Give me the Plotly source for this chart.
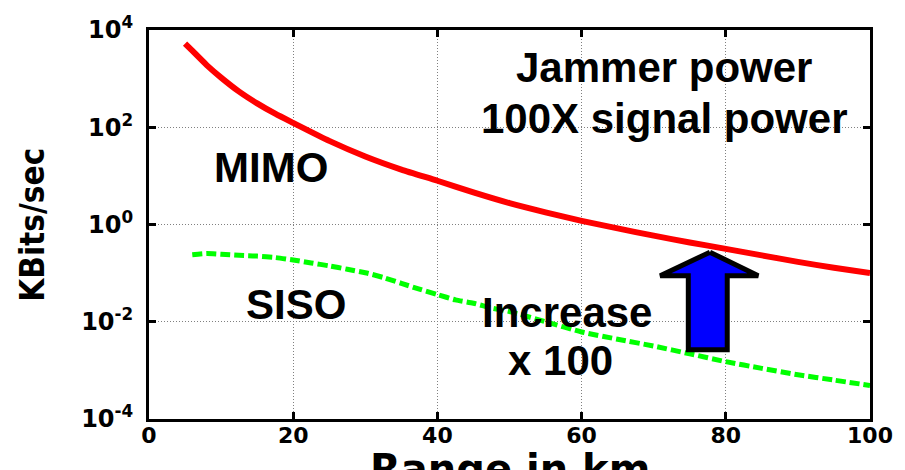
import plotly.graph_objects as go

# ---- data ----
range_km_mimo = [5, 6, 8, 10, 12.5, 15, 17.5, 20, 25, 30, 35, 40, 45, 50, 55, 60, 65, 70, 75, 80, 85,
                 90, 95, 100]
mimo_kbps = [5250, 3750, 1900, 1050, 540, 310, 190, 123, 52.5, 25.1, 13.5, 7.94, 4.57, 2.75, 1.78,
             1.19, 0.83, 0.589, 0.427, 0.316, 0.232, 0.17, 0.129, 0.10]

range_km_siso = [6, 8, 10, 12.5, 15, 17.5, 20, 22.5, 25, 27.5, 30, 32.5, 35, 37.5, 40, 42.5, 45, 47.5,
                 50, 55, 60, 65, 70, 75, 80, 85, 90, 95, 100]
siso_kbps = [0.240, 0.254, 0.245, 0.232, 0.224, 0.209, 0.186, 0.162, 0.141, 0.120, 0.102, 0.0813,
             0.0617, 0.0468, 0.0363, 0.0282, 0.0240, 0.0191, 0.0162, 0.0100, 0.00617, 0.00437,
             0.00316, 0.00219, 0.00151, 0.00110, 0.000813, 0.000631, 0.000490]

x_ticks = [0, 20, 40, 60, 80, 100]
y_ticks = [1e-4, 1e-2, 1, 1e2, 1e4]
y_tick_labels = ["10<sup>-4</sup>", "10<sup>-2</sup>", "10<sup>0</sup>", "10<sup>2</sup>", "10<sup>4</sup>"]

# arrow outline (range km, KBits/sec)
arrow_x = [77.8, 84.5, 80.2, 80.2, 74.8, 74.8, 70.9, 77.8]
arrow_y = [0.27, 0.088, 0.088, 0.00265, 0.00265, 0.088, 0.088, 0.27]

BOLD = "Liberation Sans, Arial, sans-serif"
WIDE = "DejaVu Sans, Verdana, sans-serif"
NARROW = "Liberation Sans Narrow, DejaVu Sans Condensed, Liberation Sans, sans-serif"

fig = go.Figure()
fig.add_trace(go.Scatter(x=range_km_mimo, y=mimo_kbps, mode="lines",
                         line=dict(color="#ff0000", width=6, shape="spline", smoothing=0.6),
                         hoverinfo="skip", showlegend=False))
fig.add_trace(go.Scatter(x=range_km_siso, y=siso_kbps, mode="lines",
                         line=dict(color="#00ff00", width=5, dash="10px,4px", shape="spline",
                                   smoothing=0.6),
                         hoverinfo="skip", showlegend=False))
fig.add_trace(go.Scatter(x=arrow_x, y=arrow_y, mode="lines", fill="toself", fillcolor="#0000ff",
                         line=dict(color="#000000", width=5), hoverinfo="skip", showlegend=False))

axis_common = dict(
    showline=True, linecolor="black", linewidth=3, mirror="ticks",
    ticks="inside", ticklen=7, tickwidth=3, tickcolor="black",
    showgrid=True, gridcolor="#808080", gridwidth=1, griddash="1px,2px",
    zeroline=False,
)

fig.update_xaxes(range=[0, 100], tickvals=x_ticks, ticktext=[str(v) for v in x_ticks],
                 tickfont=dict(family=WIDE, size=22, color="black", weight="bold"),
                 ticklabelstandoff=-5, **axis_common)
fig.update_yaxes(type="log", range=[-4, 4], tickvals=y_ticks, ticktext=y_tick_labels,
                 tickfont=dict(family=WIDE, size=24, color="black", weight="bold"),
                 ticklabelstandoff=8, **axis_common)

ann_font = dict(family=BOLD, size=42, color="black", weight="bold")
annotations = [
    dict(text="MIMO", x=16.9, y=1.17, xref="x", yref="y", showarrow=False, font=ann_font),
    dict(text="SISO", x=20.4, y=-1.64, xref="x", yref="y", showarrow=False, font=ann_font),
    dict(text="Increase", x=58.0, y=-1.80, xref="x", yref="y", showarrow=False, font=ann_font),
    dict(text="x 100", x=57.1, y=-2.80, xref="x", yref="y", showarrow=False, font=ann_font),
    dict(text="Jammer power", x=71.4, y=3.22, xref="x", yref="y", showarrow=False, font=ann_font),
    dict(text="100X signal power", x=71.4, y=2.18, xref="x", yref="y", showarrow=False, font=ann_font),
    dict(text="Range in km", x=0.5, y=-0.064, xref="paper", yref="paper", xanchor="center",
         yanchor="top", showarrow=False,
         font=dict(family=WIDE, size=40, color="black", weight="bold")),
    dict(text="KBits/sec", x=-0.162, y=0.5, xref="paper", yref="paper", xanchor="center",
         yanchor="middle", textangle=-90, showarrow=False,
         font=dict(family=NARROW, size=33, color="black", weight="bold")),
]

fig.update_layout(
    width=905, height=470,
    margin=dict(l=149, r=31, t=24, b=51),
    paper_bgcolor="white", plot_bgcolor="white",
    annotations=annotations,
    showlegend=False,
)

fig.write_html("out.html", config={"displayModeBar": False},
               post_script="document.body.style.margin='0';document.body.style.overflow='hidden';")
